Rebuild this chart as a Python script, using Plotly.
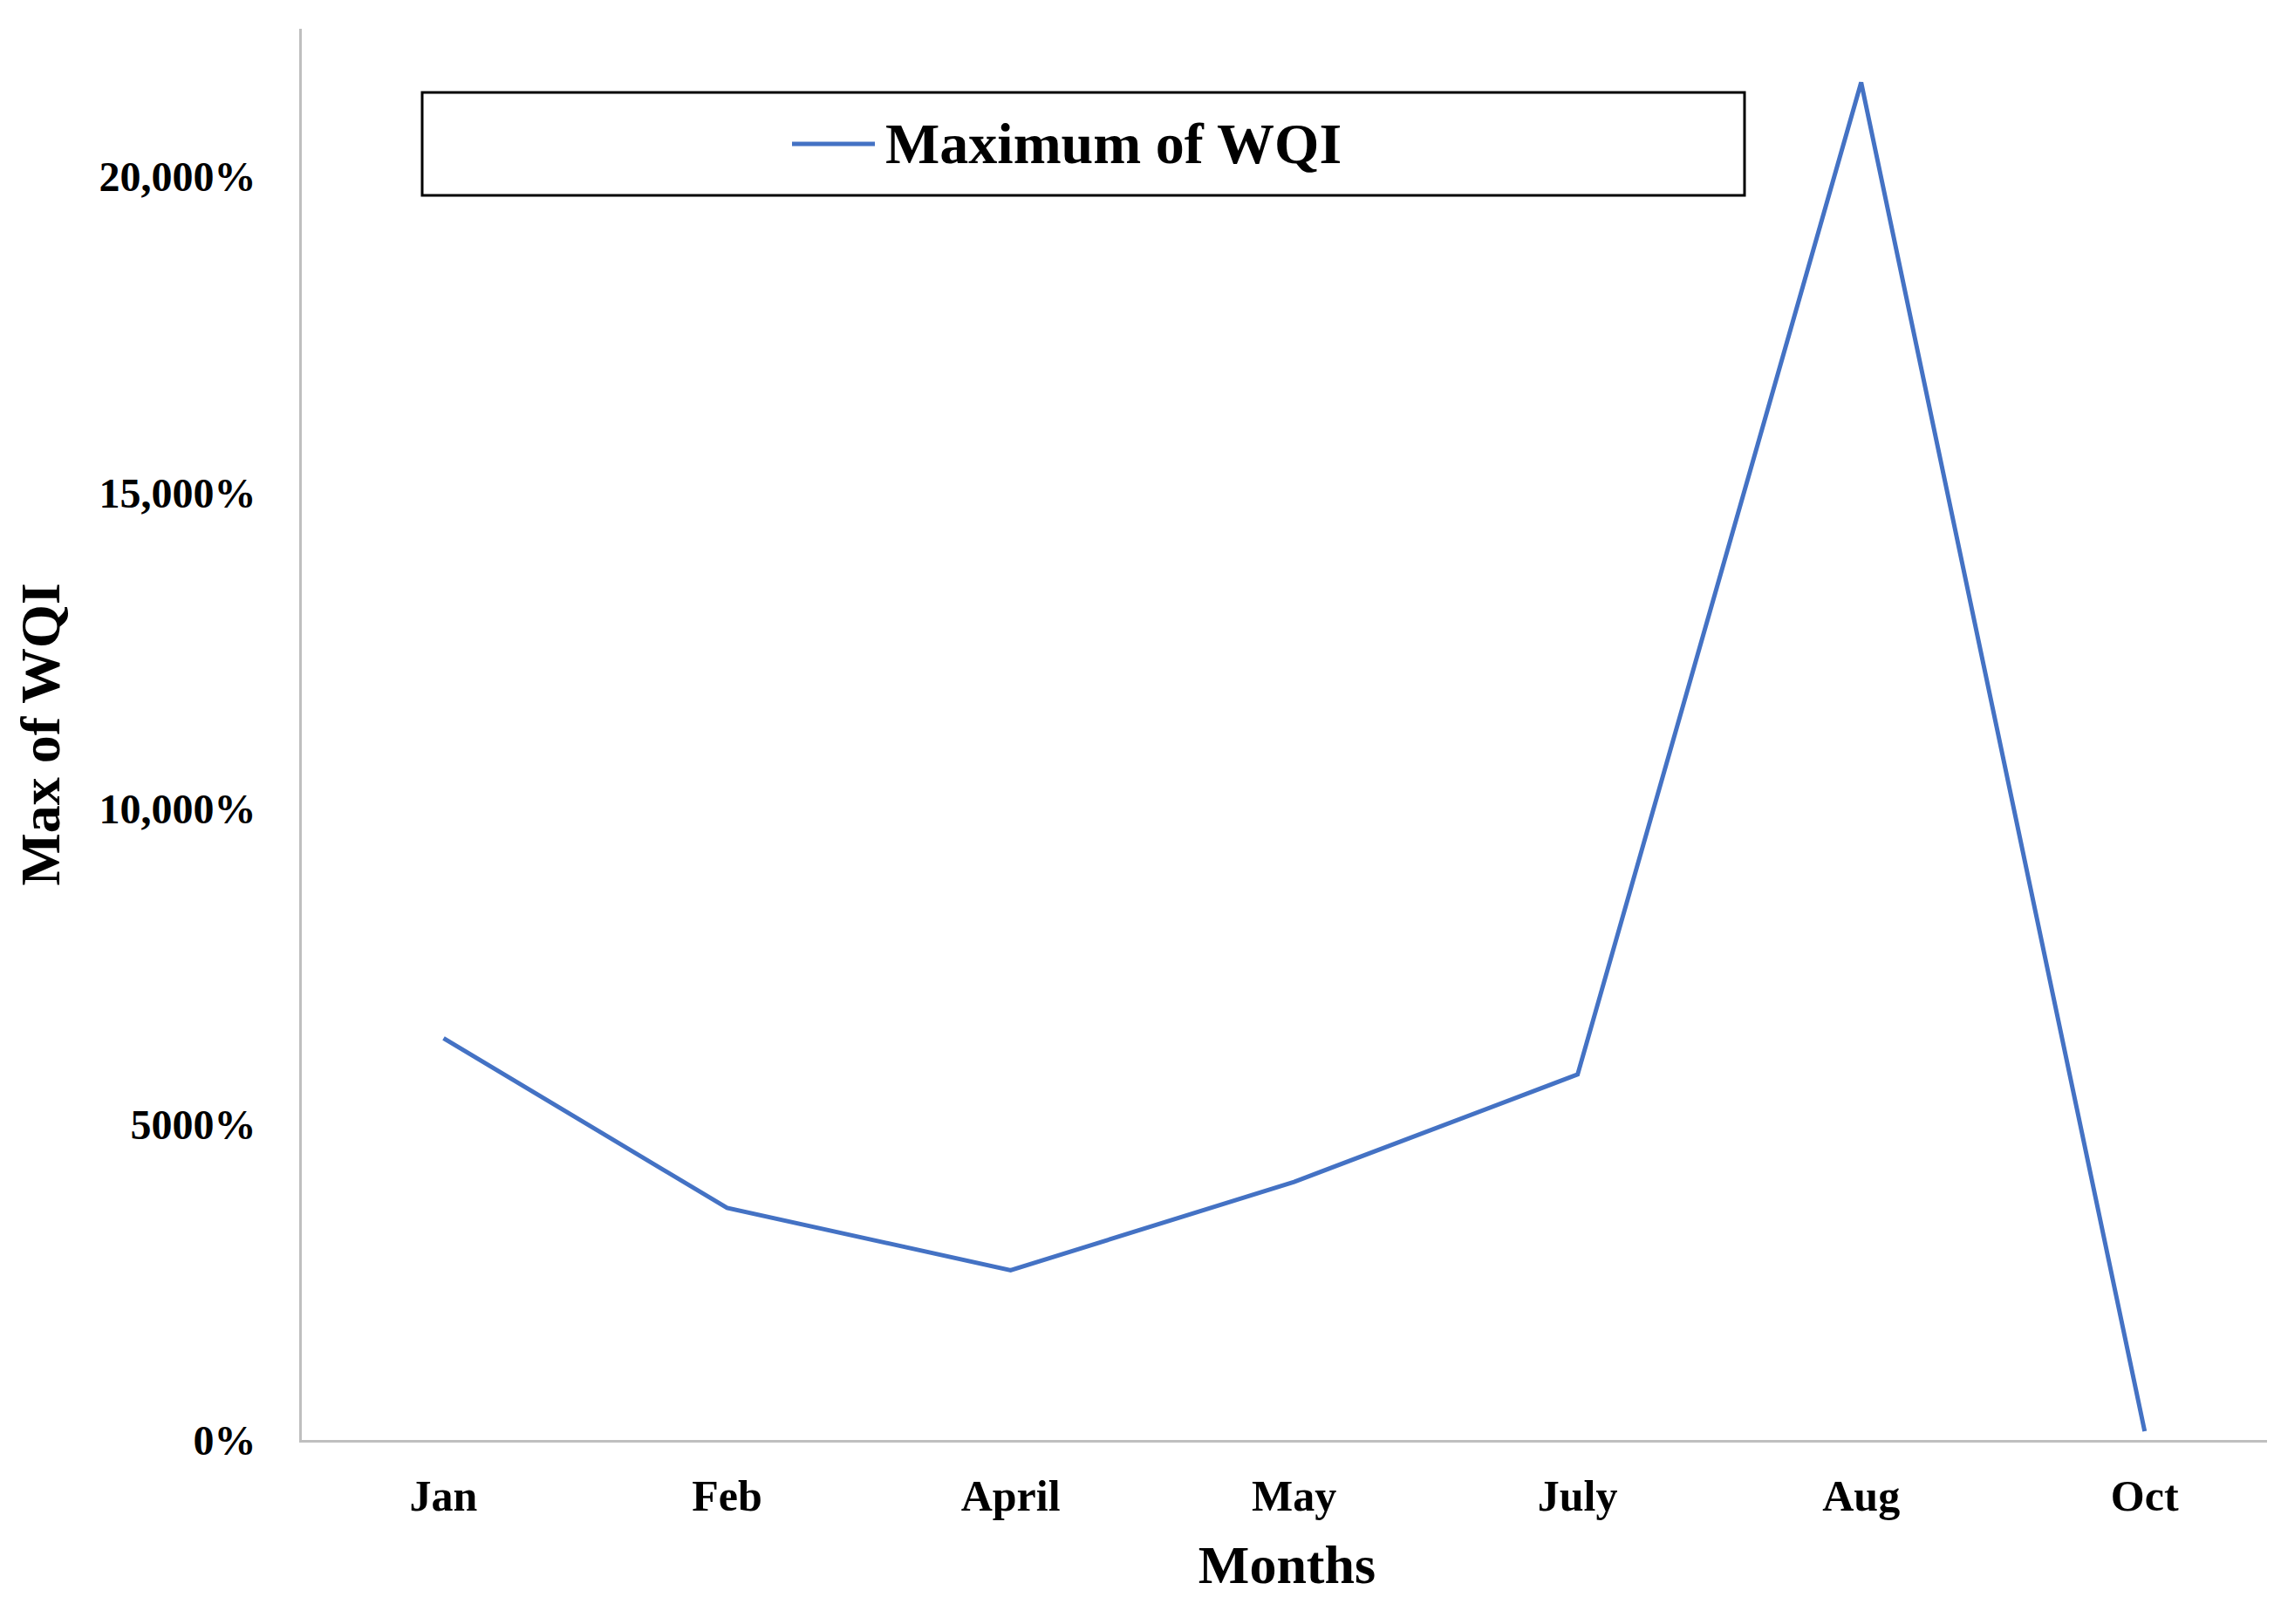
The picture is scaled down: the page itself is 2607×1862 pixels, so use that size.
import plotly.graph_objects as go

months = ["Jan", "Feb", "April", "May", "July", "Aug", "Oct"]
max_wqi = [6360, 3674, 2687, 4087, 5787, 21493, 138]
tick_vals = [0, 5000, 10000, 15000, 20000]
tick_text = ["0%", "5000%", "10,000%", "15,000%", "20,000%"]
legend_label = "Maximum of WQI"

F = "Liberation Serif"
W, H = 2607, 1862
L, R, T, B = 338, 10, 25, 219
pw, ph = W - L - R, H - T - B
def px(x): return (x - L) / pw
def py(y): return (H - B - y) / ph

fig = go.Figure(go.Scatter(x=months, y=max_wqi, mode="lines", showlegend=False,
                           line=dict(color="#4472C4", width=5)))
fig.update_layout(
    width=W, height=H, paper_bgcolor="white", plot_bgcolor="white",
    margin=dict(l=L, r=R, t=T, b=B),
    font=dict(family=F, color="black"),
    shapes=[dict(type="rect", xref="paper", yref="paper", x0=px(476), x1=px(1992),
                 y0=py(216), y1=py(98), line=dict(color="black", width=3)),
            dict(type="line", xref="paper", yref="paper", x0=px(900), x1=px(995),
                 y0=py(157), y1=py(157), line=dict(color="#4472C4", width=5))],
    annotations=[dict(xref="paper", yref="paper", x=px(1005), y=py(157), xanchor="left",
                      yanchor="middle", showarrow=False, text="<b>%s</b>" % legend_label,
                      font=dict(size=66, family=F))],
    xaxis=dict(range=[-0.5, 6.45], showline=True, linecolor="#BFBFBF", linewidth=3,
               showgrid=False, ticks="", tickfont=dict(size=50, family=F), ticklabelstandoff=18,
               title=dict(text="<b>Months</b>", font=dict(size=62, family=F), standoff=30),
               tickprefix="<b>", ticksuffix="</b>"),
    yaxis=dict(range=[0, 22343], showline=True, linecolor="#BFBFBF", linewidth=3,
               showgrid=False, zeroline=False, ticks="", tickvals=tick_vals, ticklabelstandoff=40,
               ticktext=["<b>%s</b>" % t for t in tick_text], tickfont=dict(size=48, family=F),
               title=dict(text="<b>Max of WQI</b>", font=dict(size=64, family=F), standoff=25)),
)
fig.write_html("out.html")
